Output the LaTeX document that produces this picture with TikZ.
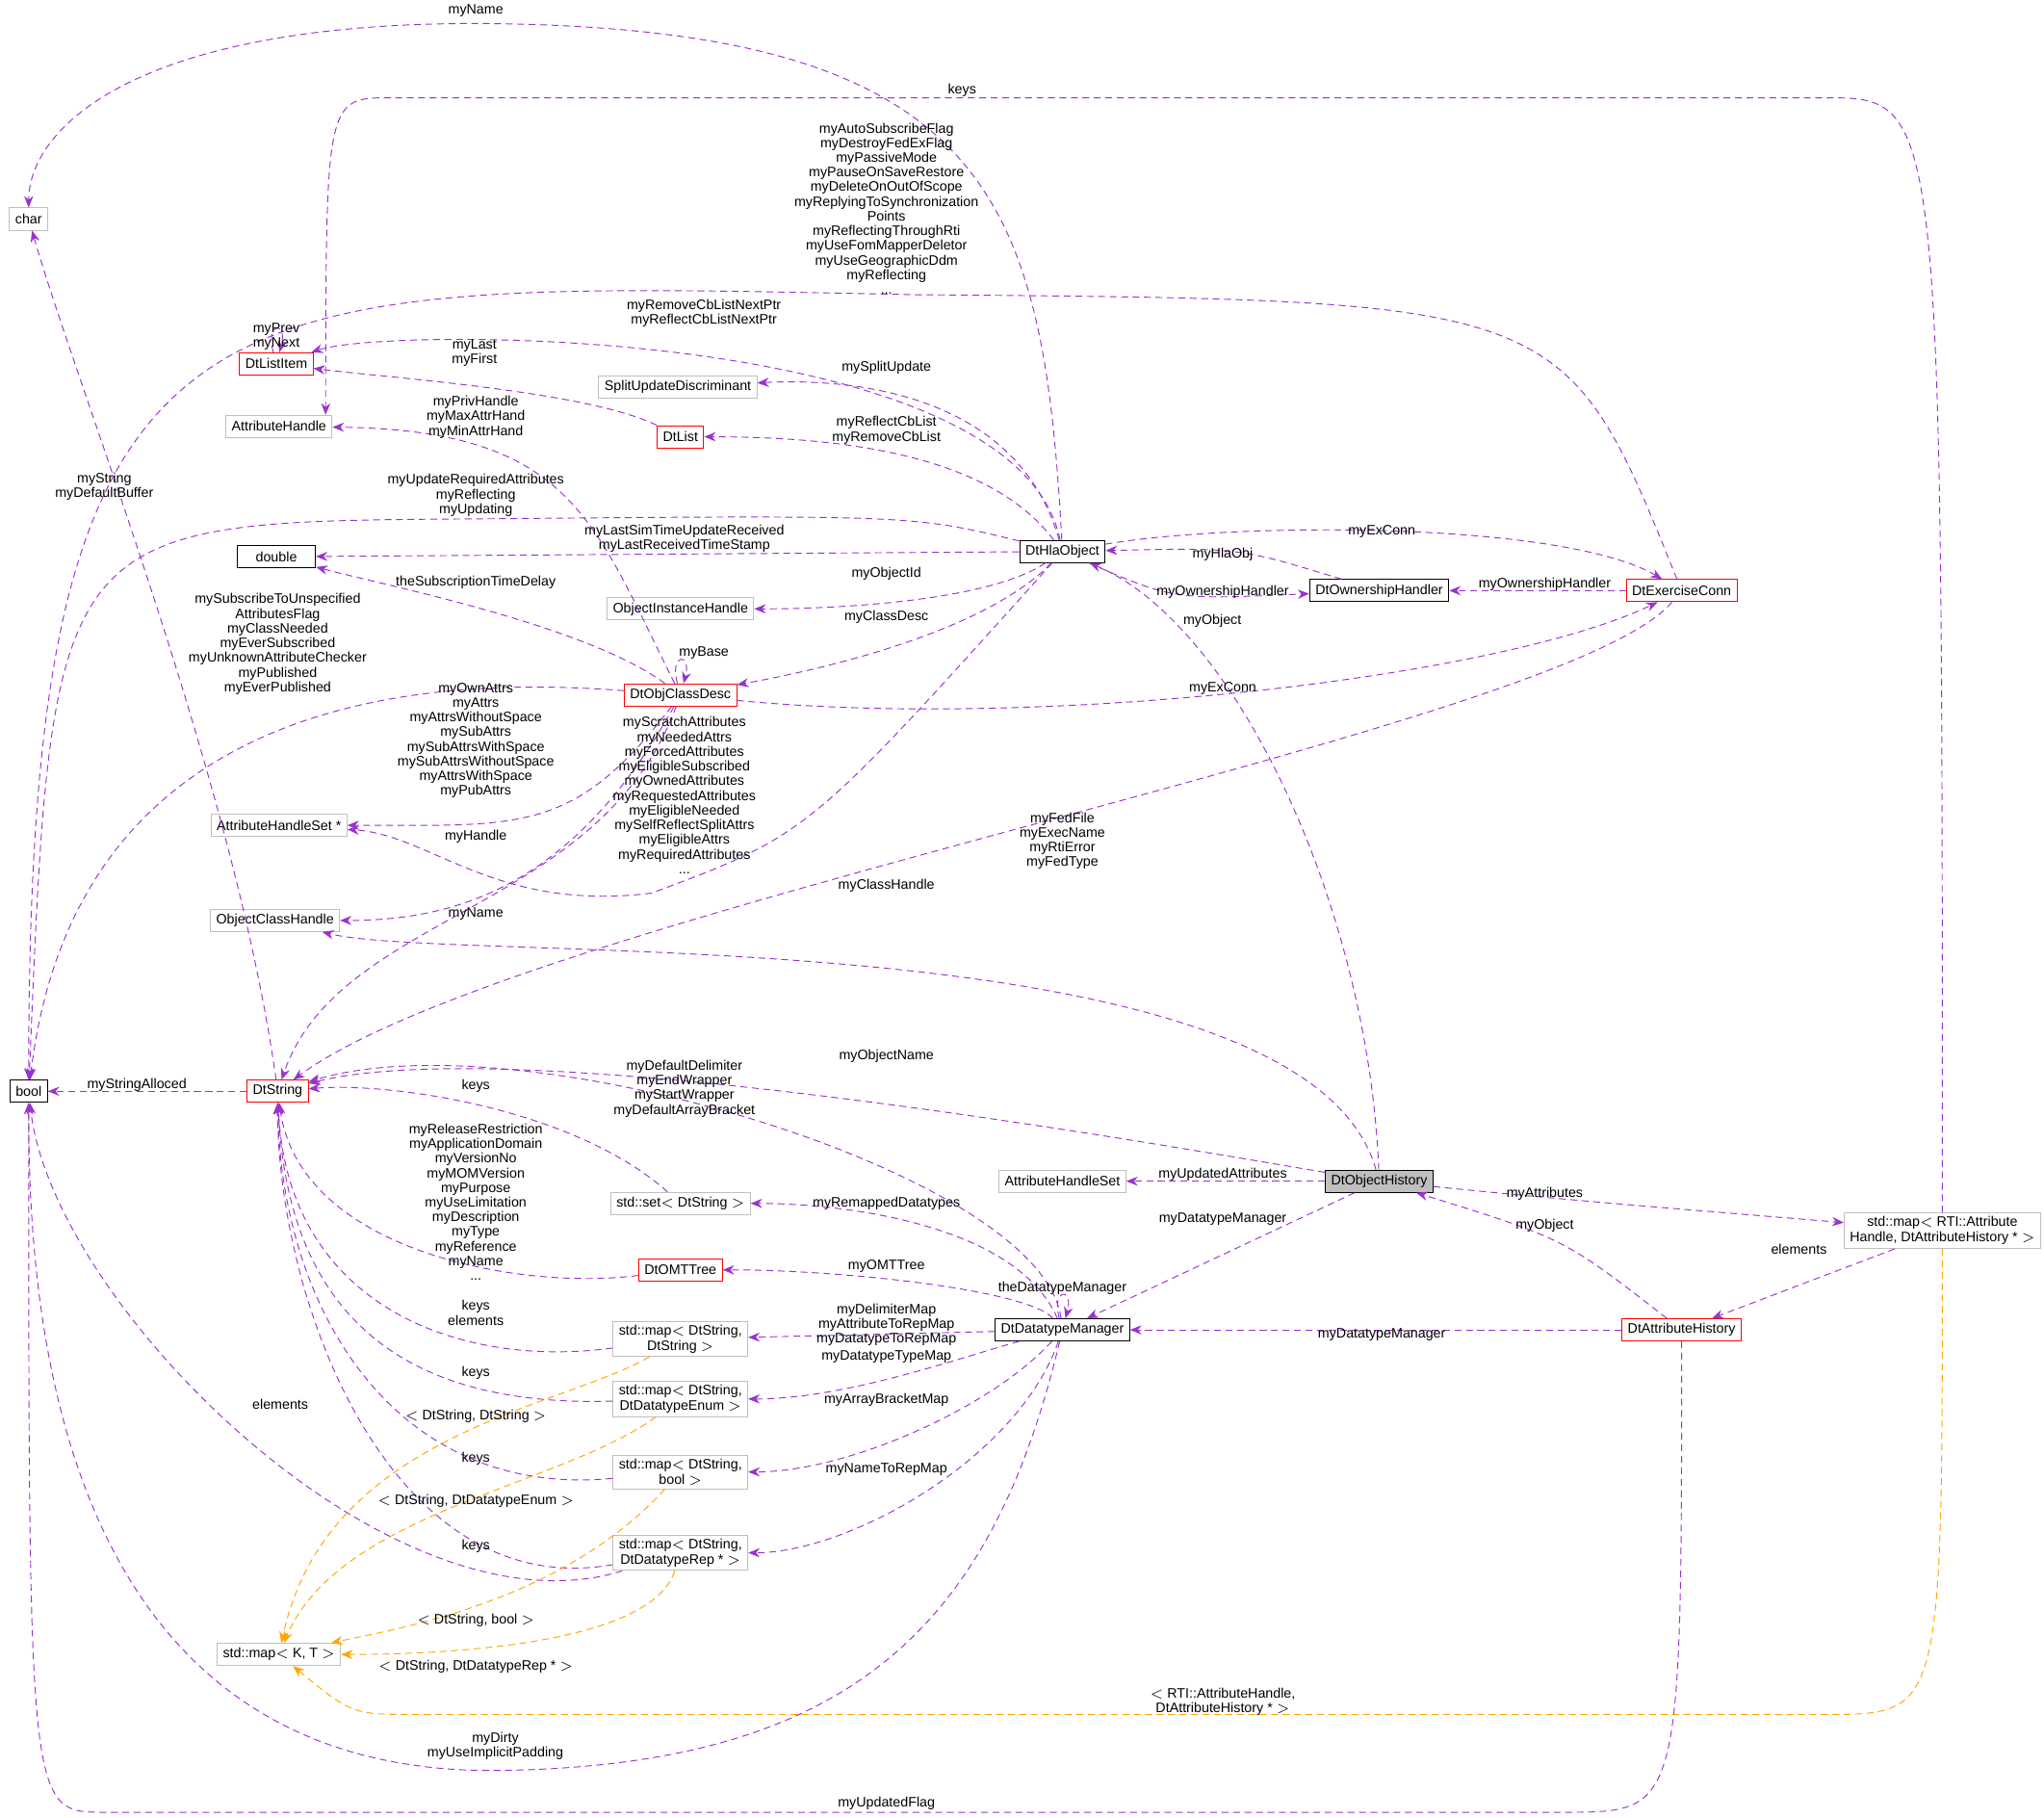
\documentclass[tikz,border=0pt]{standalone}
\usepackage{fontspec}
\setmainfont{Liberation Sans}
\usetikzlibrary{arrows.meta}
\definecolor{depc}{HTML}{9A32CD}
\definecolor{tplc}{HTML}{FFA500}
\definecolor{boxg}{HTML}{BFBFBF}
\tikzset{
  cls/.style={draw=boxg,font=\fontsize{6}{6.8}\selectfont,inner xsep=2.5pt,inner ysep=1.5pt,minimum height=0.34cm,align=center,fill=white},
  clsb/.style={cls,draw=black},
  clsr/.style={cls,draw=red},
  lbl/.style={font=\fontsize{6}{6.4}\selectfont,align=center,inner sep=0pt},
  dep/.style={densely dashed,dash pattern=on 3pt off 2pt,depc,-{Stealth[length=5pt,width=4pt]}},
  tpl/.style={dep,tplc},
}
\begin{document}
\begin{tikzpicture}[x=0.02cm,y=-0.02cm]
  \useasboundingbox (0,0) rectangle (1568,1394);
  % classes
  \node[cls]  (char)     at (22,168)  {char};
  \node[clsb] (bool)     at (22,837)  {bool};
  \node[clsr] (listitem) at (212,279) {DtListItem};
  \node[cls]  (ahandle)  at (214,327) {AttributeHandle};
  \node[clsb,minimum width=1.2cm] (double) at (212,427) {double};
  \node[cls]  (ahsetp)   at (214,633) {AttributeHandleSet *};
  \node[cls]  (och)      at (211,706) {ObjectClassHandle};
  \node[clsr] (dtstring) at (213,837) {DtString};
  \node[cls]  (mapkt)    at (214,1269) {std::map$<$ K, T $>$};
  \node[cls]  (split)    at (520,297) {SplitUpdateDiscriminant};
  \node[clsr] (dtlist)   at (522,335) {DtList};
  \node[cls]  (oih)      at (522,467) {ObjectInstanceHandle};
  \node[clsr] (objclass) at (522,533) {DtObjClassDesc};
  \node[cls]  (ahs)      at (815,906) {AttributeHandleSet};
  \node[cls]  (set)      at (522,923) {std::set$<$ DtString $>$};
  \node[clsr] (omt)      at (522,974) {DtOMTTree};
  \node[cls]  (mapss)    at (522,1027) {std::map$<$ DtString,\\DtString $>$};
  \node[cls]  (mapenum)  at (522,1073) {std::map$<$ DtString,\\DtDatatypeEnum $>$};
  \node[cls]  (mapbool)  at (522,1129) {std::map$<$ DtString,\\bool $>$};
  \node[cls]  (maprep)   at (522,1191) {std::map$<$ DtString,\\DtDatatypeRep * $>$};
  \node[clsb] (hla)      at (815,423) {DtHlaObject};
  \node[clsb] (owner)    at (1058,453) {DtOwnershipHandler};
  \node[clsr] (exconn)   at (1290,453) {DtExerciseConn};
  \node[clsb,fill=boxg] (history) at (1058,906) {DtObjectHistory};
  \node[clsb] (manager)  at (815,1020) {DtDatatypeManager};
  \node[clsr] (attrhist) at (1290,1020) {DtAttributeHistory};
  \node[cls]  (maprti)   at (1490,944) {std::map$<$ RTI::Attribute\\Handle, DtAttributeHistory * $>$};
  % connectors
  \draw[dep] (hla) .. controls (800,150) and (760,20) .. (365,18) .. controls (100,18) and (22,100) .. (char);
  \draw[dep] (maprti) .. controls (1490,75) .. (1400,75) -- (300,75) .. controls (250,75) .. ([xshift=-3pt]ahandle.north east);
  \draw[dep] (exconn) .. controls (1200,230) .. (700,226) .. controls (150,215) and (22,200) .. (bool);
  \draw[dep] (hla) .. controls (780,250) and (300,250) .. (listitem);
  \draw[dep] (listitem) to[loop above,min distance=14pt,looseness=6] (listitem);
  \draw[dep] (dtlist) .. controls (450,300) and (300,290) .. (listitem);
  \draw[dep] (hla) .. controls (780,300) and (650,290) .. (split);
  \draw[dep] (hla) .. controls (760,350) and (650,335) .. (dtlist);
  \draw[dep] (objclass) .. controls (455,400) and (440,330) .. (ahandle);
  \draw[dep] (hla) .. controls (700,395) .. (365,398) .. controls (40,400) .. (bool);
  \draw[dep] (hla) -- (double);
  \draw[dep] (hla) .. controls (950,400) and (1200,400) .. (exconn);
  \draw[dep] (owner) .. controls (950,420) .. (hla);
  \draw[dep] (hla) .. controls (900,460) .. (owner);
  \draw[dep] (exconn) -- (owner);
  \draw[dep] (hla) .. controls (760,460) and (650,467) .. (oih);
  \draw[dep] (hla) .. controls (760,480) and (650,510) .. (objclass);
  \draw[dep] (history) .. controls (1050,700) and (950,480) .. (hla);
  \draw[dep] (objclass) .. controls (450,480) and (300,450) .. (double);
  \draw[dep] (objclass) to[loop above,min distance=14pt,looseness=6] (objclass);
  \draw[dep] (objclass) .. controls (350,520) and (60,520) .. (bool);
  \draw[dep] (objclass) .. controls (800,560) and (1150,520) .. (exconn);
  \draw[dep] (objclass) .. controls (440,640) and (400,633) .. (ahsetp);
  \draw[dep] (hla) .. controls (620,640) .. (500,685) .. controls (380,700) and (330,640) .. (ahsetp);
  \draw[dep] (objclass) .. controls (440,680) and (350,706) .. (och);
  \draw[dep] (objclass) .. controls (460,700) and (260,700) .. (dtstring);
  \draw[dep] (exconn) .. controls (1200,560) and (400,700) .. (dtstring);
  \draw[dep] (history) .. controls (1000,700) and (350,740) .. (och);
  \draw[dep] (dtstring) .. controls (180,600) and (60,300) .. (char);
  \draw[dep] (dtstring) -- (bool);
  \draw[dep] (history) .. controls (900,880) and (400,790) .. (dtstring);
  \draw[dep] (manager) .. controls (800,900) and (400,780) .. (dtstring);
  \draw[dep] (set) .. controls (440,850) and (300,830) .. (dtstring);
  \draw[dep] (omt) .. controls (400,990) and (230,960) .. (dtstring);
  \draw[dep] (mapss) .. controls (350,1050) and (220,1000) .. (dtstring);
  \draw[dep] (mapenum) .. controls (300,1080) and (220,1000) .. (dtstring);
  \draw[dep] (mapbool) .. controls (300,1150) and (215,1000) .. (dtstring);
  \draw[dep] (maprep) .. controls (300,1230) and (213,1000) .. (dtstring);
  \draw[dep] (maprep) .. controls (300,1260) and (40,1000) .. (bool);
  \draw[dep] (history) -- (ahs);
  \draw[dep] (history) .. controls (1200,920) .. (maprti);
  \draw[dep] (manager) .. controls (780,940) and (650,923) .. (set);
  \draw[dep] (history) -- (manager);
  \draw[dep] (attrhist) .. controls (1200,950) .. (history);
  \draw[dep] (maprti) -- (attrhist);
  \draw[dep] (manager) to[loop above,min distance=14pt,looseness=6] (manager);
  \draw[dep] (manager) .. controls (790,990) and (650,974) .. (omt);
  \draw[dep] (attrhist) -- (manager);
  \draw[dep] (manager) -- (mapss);
  \draw[dep] (manager) .. controls (740,1040) and (650,1073) .. (mapenum);
  \draw[dep] (manager) .. controls (760,1080) and (650,1129) .. (mapbool);
  \draw[dep] (manager) .. controls (780,1120) and (650,1191) .. (maprep);
  \draw[dep] (manager) .. controls (760,1250) and (650,1355) .. (380,1358) .. controls (40,1360) and (22,1000) .. (bool);
  \draw[dep] (attrhist) .. controls (1290,1390) .. (1200,1390) -- (80,1390) .. controls (22,1390) .. (bool);
  \draw[tpl] (mapss) .. controls (430,1080) and (250,1100) .. (mapkt);
  \draw[tpl] (mapenum) .. controls (430,1140) and (260,1160) .. (mapkt);
  \draw[tpl] (mapbool) .. controls (430,1230) and (300,1250) .. (mapkt);
  \draw[tpl] (maprep) .. controls (500,1260) and (350,1269) .. (mapkt);
  \draw[tpl] (maprti) .. controls (1490,1315) .. (1400,1315) -- (320,1315) .. controls (270,1315) .. (mapkt);
  % labels
  \node[lbl] (l1)  at (365,8)   {myName};
  \node[lbl] (l2)  at (738,69)  {keys};
  \node[lbl] (l3)  at (680,160) {myAutoSubscribeFlag\\myDestroyFedExFlag\\myPassiveMode\\myPauseOnSaveRestore\\myDeleteOnOutOfScope\\myReplyingToSynchronization\\Points\\myReflectingThroughRti\\myUseFomMapperDeletor\\myUseGeographicDdm\\myReflecting\\...};
  \node[lbl] (l4)  at (540,240) {myRemoveCbListNextPtr\\myReflectCbListNextPtr};
  \node[lbl] (l5)  at (212,258) {myPrev\\myNext};
  \node[lbl] (l6)  at (364,271) {myLast\\myFirst};
  \node[lbl] (l7)  at (680,282) {mySplitUpdate};
  \node[lbl] (l8)  at (680,330) {myReflectCbList\\myRemoveCbList};
  \node[lbl] (l9)  at (365,320) {myPrivHandle\\myMaxAttrHand\\myMinAttrHand};
  \node[lbl] (l10) at (365,380) {myUpdateRequiredAttributes\\myReflecting\\myUpdating};
  \node[lbl] (l11) at (525,413) {myLastSimTimeUpdateReceived\\myLastReceivedTimeStamp};
  \node[lbl] (l12) at (1060,408) {myExConn};
  \node[lbl] (l13) at (938,425) {myHlaObj};
  \node[lbl] (l14) at (938,454) {myOwnershipHandler};
  \node[lbl] (l15) at (1185,448) {myOwnershipHandler};
  \node[lbl] (l16) at (680,440) {myObjectId};
  \node[lbl] (l17) at (680,473) {myClassDesc};
  \node[lbl] (l18) at (930,476) {myObject};
  \node[lbl] (l19) at (365,447) {theSubscriptionTimeDelay};
  \node[lbl] (l20) at (540,501) {myBase};
  \node[lbl] (l21) at (213,494) {mySubscribeToUnspecified\\AttributesFlag\\myClassNeeded\\myEverSubscribed\\myUnknownAttributeChecker\\myPublished\\myEverPublished};
  \node[lbl] (l22) at (938,528) {myExConn};
  \node[lbl] (l23) at (365,568) {myOwnAttrs\\myAttrs\\myAttrsWithoutSpace\\mySubAttrs\\mySubAttrsWithSpace\\mySubAttrsWithoutSpace\\myAttrsWithSpace\\myPubAttrs};
  \node[lbl] (l24) at (525,610) {myScratchAttributes\\myNeededAttrs\\myForcedAttributes\\myEligibleSubscribed\\myOwnedAttributes\\myRequestedAttributes\\myEligibleNeeded\\mySelfReflectSplitAttrs\\myEligibleAttrs\\myRequiredAttributes\\...};
  \node[lbl] (l25) at (365,642) {myHandle};
  \node[lbl] (l26) at (365,701) {myName};
  \node[lbl] (l27) at (815,645) {myFedFile\\myExecName\\myRtiError\\myFedType};
  \node[lbl] (l28) at (680,679) {myClassHandle};
  \node[lbl] (l29) at (80,373)  {myString\\myDefaultBuffer};
  \node[lbl] (l30) at (105,832) {myStringAlloced};
  \node[lbl] (l31) at (680,810) {myObjectName};
  \node[lbl] (l32) at (525,835) {myDefaultDelimiter\\myEndWrapper\\myStartWrapper\\myDefaultArrayBracket};
  \node[lbl] (l33) at (365,833) {keys};
  \node[lbl] (l34) at (365,922) {myReleaseRestriction\\myApplicationDomain\\myVersionNo\\myMOMVersion\\myPurpose\\myUseLimitation\\myDescription\\myType\\myReference\\myName\\...};
  \node[lbl] (l35) at (365,1007) {keys\\elements};
  \node[lbl] (l36) at (365,1053) {keys};
  \node[lbl] (l37) at (365,1119) {keys};
  \node[lbl] (l38) at (365,1186) {keys};
  \node[lbl] (l39) at (215,1077) {elements};
  \node[lbl] (l40) at (938,901) {myUpdatedAttributes};
  \node[lbl] (l41) at (1185,916) {myAttributes};
  \node[lbl] (l42) at (680,923) {myRemappedDatatypes};
  \node[lbl] (l43) at (938,935) {myDatatypeManager};
  \node[lbl] (l44) at (1185,940) {myObject};
  \node[lbl] (l45) at (1380,958) {elements};
  \node[lbl] (l46) at (815,988) {theDatatypeManager};
  \node[lbl] (l47) at (680,971) {myOMTTree};
  \node[lbl] (l48) at (1060,1024) {myDatatypeManager};
  \node[lbl] (l49) at (680,1016) {myDelimiterMap\\myAttributeToRepMap\\myDatatypeToRepMap};
  \node[lbl] (l50) at (680,1041) {myDatatypeTypeMap};
  \node[lbl] (l51) at (680,1074) {myArrayBracketMap};
  \node[lbl] (l52) at (680,1127) {myNameToRepMap};
  \node[lbl] (l53) at (380,1339) {myDirty\\myUseImplicitPadding};
  \node[lbl] (l54) at (680,1383) {myUpdatedFlag};
  \node[lbl] (l55) at (365,1086) {$<$ DtString, DtString $>$};
  \node[lbl] (l56) at (365,1151) {$<$ DtString, DtDatatypeEnum $>$};
  \node[lbl] (l57) at (365,1243) {$<$ DtString, bool $>$};
  \node[lbl] (l58) at (365,1278) {$<$ DtString, DtDatatypeRep * $>$};
  \node[lbl] (l59) at (938,1305) {$<$ RTI::AttributeHandle,\\DtAttributeHistory * $>$};
\end{tikzpicture}
\end{document}
